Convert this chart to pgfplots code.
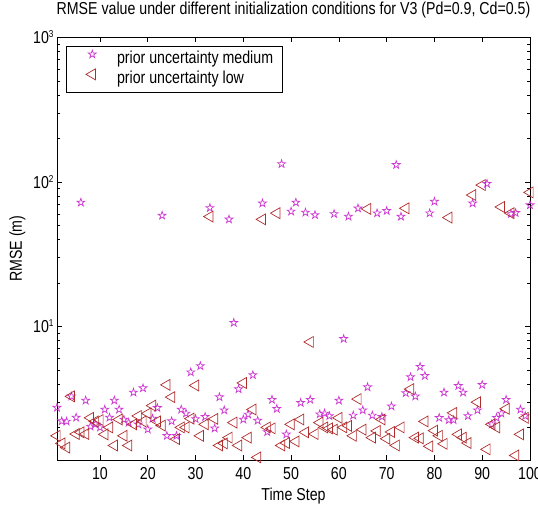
\documentclass[border=0pt]{standalone}
\usepackage{fontspec}
\setmainfont{Liberation Sans}[FakeStretch=0.82]
\usepackage{pgfplots}
\usepackage{pgfplotstable}
\pgfplotsset{compat=1.18}
\definecolor{starc}{RGB}{205,55,210}
\definecolor{tric}{RGB}{175,45,45}
\newcommand{\dec}[1]{10\raisebox{6pt}{\fontsize{10}{10}\selectfont #1}}
\pgfdeclareplotmark{pentagram}{%
  \pgfpathmoveto{\pgfpointpolar{90}{\pgfplotmarksize}}%
  \pgfpathlineto{\pgfpointpolar{126}{0.382\pgfplotmarksize}}%
  \pgfpathlineto{\pgfpointpolar{162}{\pgfplotmarksize}}%
  \pgfpathlineto{\pgfpointpolar{198}{0.382\pgfplotmarksize}}%
  \pgfpathlineto{\pgfpointpolar{234}{\pgfplotmarksize}}%
  \pgfpathlineto{\pgfpointpolar{270}{0.382\pgfplotmarksize}}%
  \pgfpathlineto{\pgfpointpolar{306}{\pgfplotmarksize}}%
  \pgfpathlineto{\pgfpointpolar{342}{0.382\pgfplotmarksize}}%
  \pgfpathlineto{\pgfpointpolar{18}{\pgfplotmarksize}}%
  \pgfpathlineto{\pgfpointpolar{54}{0.382\pgfplotmarksize}}%
  \pgfpathclose
  \pgfusepathqstroke
}
\pgfplotstableread{
t v
1 2.74
2 2.21
3 2.2
4 3.28
5 2.34
6 72
7 3.07
8 2.03
9 2.1
10 2.0
11 2.66
12 2.34
13 3.07
14 2.66
15 2.27
16 2.16
17 3.49
18 2.1
19 3.74
20 1.94
21 2.3
22 2.73
23 58.5
24 1.75
25 2.21
26 1.75
27 2.66
28 2.5
29 4.82
30 2.29
31 5.32
32 2.37
33 66
34 1.97
35 3.24
36 2.63
37 55
38 10.6
39 3.68
40 2.27
41 2.46
42 4.61
43 2.23
44 71
45 1.86
46 3.11
47 2.69
48 133
49 1.79
50 62.4
51 72
52 2.96
53 61.4
54 3.11
55 59
56 2.47
57 2.5
58 2.4
59 60
60 3.07
61 8.2
62 57.5
63 2.42
64 65.6
65 2.63
66 3.8
67 2.42
68 60.7
69 2.37
70 63
71 2.8
72 131
73 57.5
74 3.46
75 4.46
76 3.28
77 5.26
78 4.55
79 60.7
80 73
81 2.33
82 3.49
83 2.25
84 2.25
85 3.88
86 3.49
87 2.4
88 71
89 2.63
90 3.94
91 97
92 2.1
93 2.33
94 2.5
95 3.11
96 60
97 61
98 2.66
99 2.4
100 69
}\medtab
\pgfplotstableread{
t v
1 1.75
2 1.55
3 1.45
4 3.28
5 1.8
6 1.85
7 1.8
8 2.33
9 2.2
10 2.25
11 1.79
12 2.0
13 1.5
14 2.27
15 1.75
16 1.5
17 2.1
18 2.4
19 2.2
20 2.5
21 2.83
22 2.2
23 2.06
24 3.94
25 3.24
26 1.66
27 2.0
28 2.0
29 2.3
30 3.9
31 1.75
32 2.1
33 57.5
34 2.29
35 1.5
36 1.55
37 1.7
38 2.16
39 1.5
40 4.06
41 1.7
42 2.66
43 1.24
44 55
45 2.0
46 1.97
47 60.7
48 1.5
49 1.56
50 2.1
51 1.6
52 2.27
53 1.85
54 7.8
55 1.8
56 2.16
57 2.0
58 1.97
59 1.93
60 2.33
61 2.0
62 2.05
63 1.75
64 3.14
65 1.93
66 65
67 1.7
68 1.89
69 2.27
70 1.67
71 1.86
72 1.5
73 2.0
74 65.6
75 3.68
76 1.7
77 1.68
78 2.2
79 1.48
80 1.9
81 1.75
82 1.54
83 56.6
84 2.52
85 1.79
86 1.7
87 1.56
88 81
89 2.99
90 95
91 1.41
92 2.1
93 2.0
94 67
95 2.69
96 60.7
97 1.28
98 1.79
99 2.33
100 84.5
}\lowtab
\begin{document}
\begin{tikzpicture}[font=\fontsize{17.3}{20}\selectfont]
\useasboundingbox (-57pt,-48pt) rectangle (481pt,460pt);
\begin{axis}[
  scale only axis, width=473pt, height=422.7pt,
  xmin=1, xmax=100, ymode=log, ymin=1.19, ymax=1000,
  clip=false,
  xtick={10,20,...,100},
  ytick={10,100,1000}, yticklabels={\dec{1},\dec{2},\dec{3}},
  minor ytick={2,3,4,5,6,7,8,9,20,30,40,50,60,70,80,90,200,300,400,500,600,700,800,900},
  tick align=inside, major tick length=5pt, minor tick length=3pt,
  axis line style={line width=0.8pt},
  every tick/.style={black, line width=0.6pt},
  /pgf/number format/assume math mode=true,
  xticklabel style={anchor=base, yshift=-20pt},
  title={RMSE value under different initialization conditions for V3 (Pd=0.9, Cd=0.5)},
  title style={at={(0.5,1)}, anchor=base, yshift=16.6pt},
  xlabel={Time Step},
  xlabel style={at={(axis description cs:0.5,0)}, anchor=base, yshift=-40.7pt},
  ylabel={RMSE (m)},
  ylabel style={at={(axis description cs:-0.0835,0.5)}, anchor=center},
  legend cell align=left,
  legend style={at={(0.02,0.98)}, anchor=north west, draw=black, line width=0.6pt,
    inner xsep=7pt, inner ysep=3.25pt,
    nodes={inner sep=1.75pt, text height=12.4pt, text depth=3.3pt}},
  legend image code/.code={\path[draw=none,fill=none] (0pt,-3pt) rectangle (41.5pt,10pt); \draw[#1] plot coordinates {(18.5pt,5pt)};},
]
\addplot[only marks, mark=pentagram, mark size=4.2pt, color=starc, mark options={solid, line width=0.7pt}] table[x=t, y=v] {\medtab};
\addplot[only marks, mark=triangle, mark size=6.3pt, color=tric, mark options={solid, rotate=90, line width=0.7pt}] table[x=t, y=v] {\lowtab};
\legend{prior uncertainty medium, prior uncertainty low}
\end{axis}
\end{tikzpicture}
\end{document}
